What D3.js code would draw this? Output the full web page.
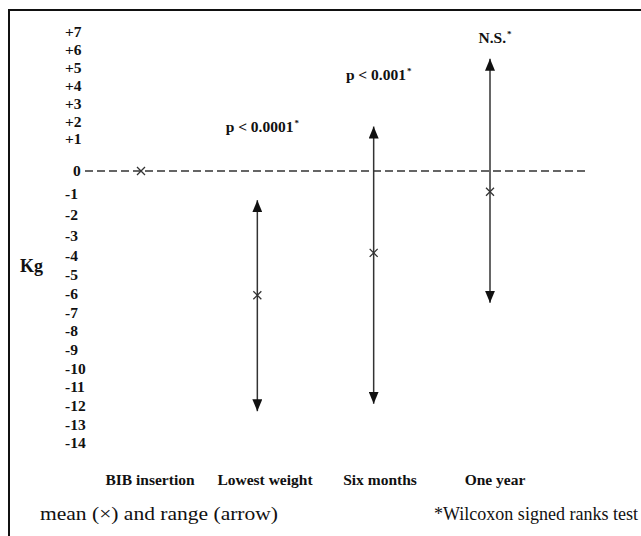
<!DOCTYPE html>
<html>
<head>
<meta charset="utf-8">
<script src="https://cdn.jsdelivr.net/npm/d3@7"></script>
<style>
  html, body { margin: 0; padding: 0; background: #fff; }
  svg { display: block; font-family: "Liberation Serif", "Times New Roman", serif; }
</style>
</head>
<body>
<script>
// chart data (kg change from BIB insertion)
const groups = ["BIB insertion", "Lowest weight", "Six months", "One year"];
const means = [0, -6.1, -3.85, -0.9];
const rangeMin = [null, -12.3, -11.9, -6.5];
const rangeMax = [null, -1.3, 1.7, 5.5];
const pLabels = [null, "p < 0.0001", "p < 0.001", "N.S."];
const pLevel = [null, 1.7, 4.6, 6.7]; // kg level the p label sits at
const yTicks = [7, 6, 5, 4, 3, 2, 1, 0, -1, -2, -3, -4, -5, -6, -7, -8, -9, -10, -11, -12, -13, -14];
const noteLeft = "mean (\u00d7) and range (arrow)";
const noteRight = "*Wilcoxon signed ranks test";

const width = 641, height = 536;
const ink = "#111";

const svg = d3.select("body").append("svg")
    .attr("width", width)
    .attr("height", height)
    .attr("viewBox", [0, 0, width, height]);

// frame (right and bottom edges fall outside the picture)
svg.append("rect")
    .attr("x", 9).attr("y", 10)
    .attr("width", 700).attr("height", 600)
    .attr("fill", "none")
    .attr("stroke", "#111")
    .attr("stroke-width", 2);

// the printed axis is not evenly spaced, so the scale is piecewise
const y = d3.scaleLinear()
    .domain([-14, -4, -1, 0, 1, 7])
    .range([443, 256, 194, 171, 139, 32]);

const xMark = d3.scalePoint().domain(groups).range([141, 490]);
const xLabel = d3.scalePoint().domain(groups).range([150, 495]);

// arrow heads
const defs = svg.append("defs");
defs.append("marker")
    .attr("id", "head")
    .attr("viewBox", "0 -5 12 10")
    .attr("refX", 12).attr("refY", 0)
    .attr("markerUnits", "userSpaceOnUse")
    .attr("markerWidth", 12).attr("markerHeight", 10)
    .attr("orient", "auto-start-reverse")
    .append("path")
    .attr("d", "M0,-5L12,0L0,5Z")
    .attr("fill", "#111");

// y tick labels
const yAxis = d3.axisLeft(y)
    .tickValues(yTicks)
    .tickSize(0)
    .tickFormat(d => d > 0 ? "+" + d : String(d));

svg.append("g")
    .attr("transform", "translate(65,0)")
    .call(yAxis)
    .call(g => g.select(".domain").remove())
    .call(g => g.selectAll(".tick text")
        .attr("x", d => d === 0 ? 8 : 0)
        .attr("text-anchor", "start")
        .attr("fill", ink)
        .attr("font-family", "Liberation Serif, serif")
        .attr("font-weight", "bold")
        .attr("font-size", 15.5));

svg.append("text")
    .attr("x", 20)
    .attr("y", y(-4.5))
    .attr("dy", "0.35em")
    .attr("fill", ink)
    .attr("font-weight", "bold")
    .attr("font-size", 18)
    .text("Kg");

// zero line
svg.append("line")
    .attr("x1", xMark(groups[0]) - 56)
    .attr("x2", xMark(groups[groups.length - 1]) + 96)
    .attr("y1", y(0)).attr("y2", y(0))
    .attr("stroke", "#333")
    .attr("stroke-width", 1.5)
    .attr("stroke-dasharray", "8,4");

const I = d3.range(groups.length);

// range arrows
svg.append("g")
    .selectAll("line")
    .data(I.filter(i => rangeMin[i] !== null))
    .join("line")
    .attr("x1", i => xMark(groups[i]))
    .attr("x2", i => xMark(groups[i]))
    .attr("y1", i => y(rangeMax[i]))
    .attr("y2", i => y(rangeMin[i]))
    .attr("stroke", "#333")
    .attr("stroke-width", 1.5)
    .attr("marker-start", "url(#head)")
    .attr("marker-end", "url(#head)");

// means
const s = 4;
svg.append("g")
    .attr("stroke", "#333")
    .attr("stroke-width", 1.3)
    .attr("fill", "none")
    .selectAll("path")
    .data(I)
    .join("path")
    .attr("d", i => {
        const cx = xMark(groups[i]), cy = y(means[i]);
        return `M${cx - s},${cy - s}L${cx + s},${cy + s}M${cx - s},${cy + s}L${cx + s},${cy - s}`;
    });

// p values
const pt = svg.append("g")
    .attr("fill", ink)
    .attr("font-weight", "bold")
    .attr("font-size", 15.5)
    .attr("text-anchor", "middle")
    .selectAll("text")
    .data(I.filter(i => pLabels[i] !== null))
    .join("text")
    .attr("x", i => xMark(groups[i]) + 5)
    .attr("y", i => y(pLevel[i]))
    .attr("dy", "0.35em");
pt.append("tspan").text(i => pLabels[i]);
pt.append("tspan")
    .attr("font-size", 9)
    .attr("dx", 1)
    .attr("dy", -6)
    .text("*");

// category labels
svg.append("g")
    .attr("fill", ink)
    .attr("font-weight", "bold")
    .attr("font-size", 15.5)
    .attr("text-anchor", "middle")
    .selectAll("text")
    .data(groups)
    .join("text")
    .attr("x", d => xLabel(d))
    .attr("y", y(-14) + 42)
    .text(d => d);

// notes
svg.append("text")
    .attr("x", 40)
    .attr("y", y(-14) + 77)
    .attr("fill", ink)
    .attr("font-size", 19)
    .attr("textLength", 238)
    .attr("lengthAdjust", "spacingAndGlyphs")
    .text(noteLeft);

svg.append("text")
    .attr("x", 434)
    .attr("y", y(-14) + 77)
    .attr("fill", ink)
    .attr("font-size", 18)
    .attr("textLength", 204)
    .attr("lengthAdjust", "spacingAndGlyphs")
    .text(noteRight);
</script>
</body>
</html>
